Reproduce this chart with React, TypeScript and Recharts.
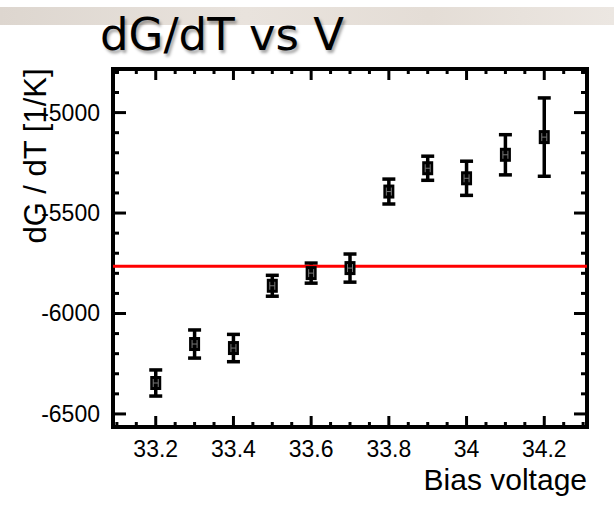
import React from "react";
import {
  ScatterChart,
  Scatter,
  XAxis,
  YAxis,
  ErrorBar,
  ReferenceLine,
  ReferenceArea,
} from "recharts";

// bias voltage [V]
const voltages = [33.2, 33.3, 33.4, 33.5, 33.6, 33.7, 33.8, 33.9, 34.0, 34.1, 34.2];
// dG/dT [1/K]
const dGdT = [-6346, -6152, -6172, -5862, -5799, -5774, -5393, -5277, -5327, -5210, -5122];
const dGdTErr = [65, 70, 68, 52, 50, 70, 62, 60, 85, 100, 195];
const fitLevel = -5765;

const xMajorTicks = [33.2, 33.4, 33.6, 33.8, 34, 34.2];
const xTicks = [
  33.1, 33.15, 33.2, 33.25, 33.3, 33.35, 33.4, 33.45, 33.5, 33.55, 33.6, 33.65,
  33.7, 33.75, 33.8, 33.85, 33.9, 33.95, 34, 34.05, 34.1, 34.15, 34.2, 34.25, 34.3,
];
const yMajorTicks = [-6500, -6000, -5500, -5000];
const yTicks = [
  -6500, -6400, -6300, -6200, -6100, -6000, -5900, -5800, -5700, -5600, -5500,
  -5400, -5300, -5200, -5100, -5000, -4900, -4800,
];

const X_DOMAIN: [number, number] = [33.09, 34.31];
const Y_DOMAIN: [number, number] = [-6565, -4783];

// plot frame in pixels
const L = 113;
const R = 587;
const T = 69;
const B = 427;
const Y_AXIS_W = 60;
const X_AXIS_H = 40;

const FONT = "Liberation Sans, Arial, sans-serif";

const data = voltages.map((v, i) => ({ v, g: dGdT[i], err: dGdTErr[i] }));

const isMajor = (list: number[], v: number) =>
  list.some((m) => Math.abs(m - v) < 1e-6);

const renderXTick = (props: any) => {
  const { x, payload } = props;
  const major = isMajor(xMajorTicks, payload.value);
  const len = major ? 11 : 5;
  return (
    <g key={`xt-${payload.value}`}>
      <line x1={x} y1={B} x2={x} y2={B - len} stroke="#000" strokeWidth={3} />
      <line x1={x} y1={T} x2={x} y2={T + len} stroke="#000" strokeWidth={3} />
      {major && (
        <text x={x} y={B + 30} textAnchor="middle" fontSize={23} fontFamily={FONT} fill="#000">
          {String(payload.value)}
        </text>
      )}
    </g>
  );
};

const renderYTick = (props: any) => {
  const { y, payload } = props;
  const major = isMajor(yMajorTicks, payload.value);
  const len = major ? 13 : 6;
  return (
    <g key={`yt-${payload.value}`}>
      <line x1={L} y1={y} x2={L + len} y2={y} stroke="#000" strokeWidth={3} />
      <line x1={R} y1={y} x2={R - len} y2={y} stroke="#000" strokeWidth={3} />
      {major && (
        <text x={L - 13} y={y + 8} textAnchor="end" fontSize={23} fontFamily={FONT} fill="#000">
          {String(payload.value)}
        </text>
      )}
    </g>
  );
};

const Marker = (props: any) => {
  const { cx, cy } = props;
  if (cx == null || cy == null) return null;
  return (
    <g>
      <rect x={cx - 5.5} y={cy - 7} width={11} height={14} fill="#000" />
      <line x1={cx - 2.5} y1={cy - 4} x2={cx - 2.5} y2={cy + 4} stroke="#777" strokeWidth={1} />
      <line x1={cx + 2.5} y1={cy - 4} x2={cx + 2.5} y2={cy + 4} stroke="#777" strokeWidth={1} />
      <line x1={cx - 2.5} y1={cy} x2={cx + 2.5} y2={cy} stroke="#777" strokeWidth={1} />
    </g>
  );
};

export default function App() {
  return (
    <div
      style={{
        position: "absolute",
        left: 0,
        top: 0,
        width: 614,
        height: 510,
        background: "#fff",
        overflow: "hidden",
      }}
    >
      <div
        style={{
          position: "absolute",
          left: 0,
          top: 7,
          width: 614,
          height: 18,
          background: "linear-gradient(90deg, #ddd6cf, #e9e3dd 40%, #e4ddd6 70%, #ece7e2)",
        }}
      />
      <div
        style={{
          position: "absolute",
          left: 100,
          top: 12,
          fontSize: 45,
          lineHeight: "46px",
          fontFamily: "'Comic Sans MS', 'DejaVu Sans', sans-serif",
          color: "#000",
          textShadow: "2px 3px 3px rgba(0,0,0,0.35)",
          whiteSpace: "nowrap",
        }}
      >
        dG/dT vs V
      </div>
      <div style={{ position: "absolute", left: 0, top: 0 }}>
        <ScatterChart
          width={614}
          height={510}
          margin={{
            top: T,
            right: 614 - R,
            bottom: 510 - B - X_AXIS_H,
            left: L - Y_AXIS_W,
          }}
        >
          <XAxis
            type="number"
            dataKey="v"
            domain={X_DOMAIN}
            ticks={xTicks}
            interval={0}
            allowDataOverflow
            height={X_AXIS_H}
            axisLine={false}
            tickLine={false}
            tick={renderXTick}
          />
          <YAxis
            type="number"
            dataKey="g"
            domain={Y_DOMAIN}
            ticks={yTicks}
            interval={0}
            allowDataOverflow
            width={Y_AXIS_W}
            axisLine={false}
            tickLine={false}
            tick={renderYTick}
          />
          <Scatter data={data} shape={<Marker />} isAnimationActive={false}>
            <ErrorBar
              dataKey="err"
              direction="y"
              width={6.5}
              stroke="#000"
              strokeWidth={3.5}
              isAnimationActive={false}
            />
          </Scatter>
          <ReferenceLine y={fitLevel} stroke="#ff0000" strokeWidth={3} />
          <ReferenceArea
            x1={X_DOMAIN[0]}
            x2={X_DOMAIN[1]}
            y1={Y_DOMAIN[0]}
            y2={Y_DOMAIN[1]}
            fill="none"
            stroke="#000"
            strokeWidth={4}
          />
          <text x={R} y={490} textAnchor="end" fontSize={30} fontFamily={FONT} fill="#000">
            Bias voltage
          </text>
          <text
            x={0}
            y={0}
            transform="translate(46,156) rotate(-90)"
            textAnchor="middle"
            fontSize={31}
            fontFamily={FONT}
            fill="#000"
          >
            dG / dT [1/K]
          </text>
        </ScatterChart>
      </div>
    </div>
  );
}
